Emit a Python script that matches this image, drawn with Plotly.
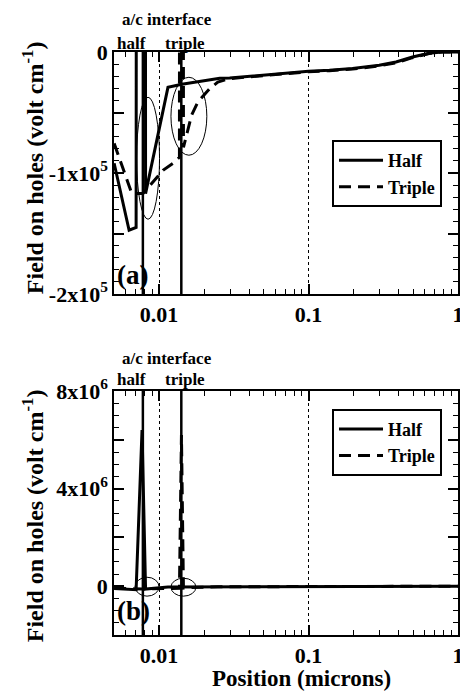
import plotly.graph_objects as go

# ---------------- data ----------------
half_x = [0.00501, 0.00631, 0.00703, 0.00770, 0.00813, 0.01148, 0.01423, 0.0255,
          0.0297, 0.05, 0.1, 0.138, 0.197, 0.297, 0.385, 0.496, 0.641, 0.782, 1.0]
half_y = [-92000, -147300, -145000, 6.4e6, -117000, -29200, -26700, -21700,
          -21500, -19000, -15950, -15100, -13700, -11000, -8260, -4130, -1000, 0, 0]

triple_x = [0.00501, 0.00658, 0.00782, 0.01063, 0.0124, 0.0137, 0.01413, 0.01457,
            0.01652, 0.0182, 0.02188, 0.02473, 0.0297, 0.05, 0.1, 0.138, 0.197,
            0.297, 0.385, 0.496, 0.641, 0.782, 1.0]
triple_y = [-75500, -117000, -117000, -97800, -92000, -87000, 6.2e6, -78800,
            -52300, -41300, -30200, -24800, -22000, -19300, -16300, -15400, -14100,
            -11500, -8900, -4700, -1200, 0, 0]

interface_x = [0.0078, 0.0141]          # a/c interface: half, triple
interface_names = ["half", "triple"]

x_tickvals = [0.01, 0.1, 1]
x_ticktext = ["0.01", "0.1", "1"]
x_minor = [0.005, 0.006, 0.007, 0.008, 0.009,
           0.02, 0.03, 0.04, 0.05, 0.06, 0.07, 0.08, 0.09,
           0.2, 0.3, 0.4, 0.5, 0.6, 0.7, 0.8, 0.9]

ya_tickvals = [-2e5, -1.5e5, -1e5, -5e4, 0]
ya_ticktext = ["-2x10<sup>5</sup>", "", "-1x10<sup>5</sup>", "", "0"]
yb_tickvals = [-2e6, 0, 2e6, 4e6, 6e6, 8e6]
yb_ticktext = ["", "0", "", "4x10<sup>6</sup>", "", "8x10<sup>6</sup>"]

# ---------------- figure ----------------
FONT = "Liberation Serif"
BF = dict(family=FONT, color="black", weight="bold")

fig = go.Figure()
for xa, ya, leg in [("x", "y", "legend"), ("x2", "y2", "legend2")]:
    fig.add_trace(go.Scatter(x=half_x, y=half_y, mode="lines", name="Half",
                             line=dict(color="black", width=3),
                             xaxis=xa, yaxis=ya, legend=leg))
    fig.add_trace(go.Scatter(x=triple_x, y=triple_y, mode="lines", name="Triple",
                             line=dict(color="black", width=3, dash="12px,7px"),
                             xaxis=xa, yaxis=ya, legend=leg))

xaxis_common = dict(
    type="log", range=[-2.301, 0], tickvals=x_tickvals, ticktext=x_ticktext,
    ticks="inside", ticklen=10, tickwidth=1.5, tickcolor="black",
    showline=True, linecolor="black", linewidth=1.5, mirror="ticks",
    showgrid=True, gridcolor="black", gridwidth=1, griddash="dot",
    zeroline=False, automargin=False, ticklabeloverflow="allow",
    tickfont=dict(size=22, **BF),
    minor=dict(tickvals=x_minor, ticks="inside", ticklen=5, tickwidth=1,
               tickcolor="black", showgrid=False),
)
yaxis_common = dict(
    ticks="inside", ticklen=10, tickwidth=1.5, tickcolor="black",
    showline=True, linecolor="black", linewidth=1.5, mirror="ticks",
    showgrid=False, zeroline=False, automargin=False, ticklabeloverflow="allow",
    tickfont=dict(size=22, **BF),
)

legend_common = dict(xanchor="right", yanchor="top", bordercolor="black",
                     borderwidth=2, bgcolor="white", font=dict(size=18, **BF),
                     tracegroupgap=0, itemwidth=44)

fig.update_layout(
    template="none",
    width=460, height=692,
    margin=dict(l=114, r=2, t=52, b=57, autoexpand=False),
    paper_bgcolor="white", plot_bgcolor="white",
    font=dict(family=FONT, size=18, color="black"),
    xaxis=dict(domain=[0, 1], anchor="y", **xaxis_common),
    yaxis=dict(domain=[0.5849, 1], anchor="x", range=[-2e5, 0],
               tickvals=ya_tickvals, ticktext=ya_ticktext,
               minor=dict(dtick=1e4, ticks="inside", ticklen=5, tickwidth=1,
                          tickcolor="black", showgrid=False),
               **yaxis_common),
    xaxis2=dict(domain=[0, 1], anchor="y2", **xaxis_common),
    yaxis2=dict(domain=[0, 0.4185], anchor="x2", range=[-2e6, 8e6],
                tickvals=yb_tickvals, ticktext=yb_ticktext,
                minor=dict(dtick=5e5, ticks="inside", ticklen=5, tickwidth=1,
                           tickcolor="black", showgrid=False),
                **yaxis_common),
    legend=dict(x=0.9535, y=0.849, **legend_common),
    legend2=dict(x=0.9535, y=0.388, **legend_common),
)

# interface marker lines
for xr, yr in [("x", "y domain"), ("x2", "y2 domain")]:
    for xv in interface_x:
        fig.add_shape(type="line", xref=xr, yref=yr, x0=xv, x1=xv, y0=0, y1=1,
                      line=dict(color="black", width=2.5))

# ellipses highlighting regions
ellipses = [
    ("x", "y", 0.00708, 0.01008, -138200, -37400),
    ("x", "y", 0.01202, 0.02089, -85300, -20900),
    ("x2", "y2", 0.00692, 0.0100, -0.408e6, 0.367e6),
    ("x2", "y2", 0.01202, 0.01765, -0.408e6, 0.327e6),
]
for xr, yr, x0, x1, y0, y1 in ellipses:
    fig.add_shape(type="circle", xref=xr, yref=yr, x0=x0, x1=x1, y0=y0, y1=y1,
                  line=dict(color="black", width=1))

def ann(text, x, y, size, xanchor="center", yanchor="middle", **kw):
    fig.add_annotation(text=text, x=x, y=y, xref="paper", yref="paper",
                       xanchor=xanchor, yanchor=yanchor,
                       showarrow=False, font=dict(size=size, **BF), **kw)

# top labels
for ytop, yhl in [(1.0566, 1.0154), (0.4751, 0.4374)]:
    ann("a/c interface", 0.154, ytop, 17)
    ann(interface_names[0], 0.052, yhl, 17)
    ann(interface_names[1], 0.207, yhl, 17)

# panel labels
ann("(a)", 0.004, 0.6175, 27, xanchor="left")
ann("(b)", 0.004, 0.041, 27, xanchor="left")

# axis titles
ytitle = "Field on holes (volt cm<sup>-1</sup>)"
ann(ytitle, -0.235, 0.801, 24, textangle=-90)
ann(ytitle, -0.235, 0.204, 24, textangle=-90)
ann("Position (microns)", 0.5465, -0.0738, 23)

fig.write_html(
    "out.html",
    config={"displayModeBar": False},
    post_script="document.body.style.margin='0';document.body.style.overflow='hidden';",
)
